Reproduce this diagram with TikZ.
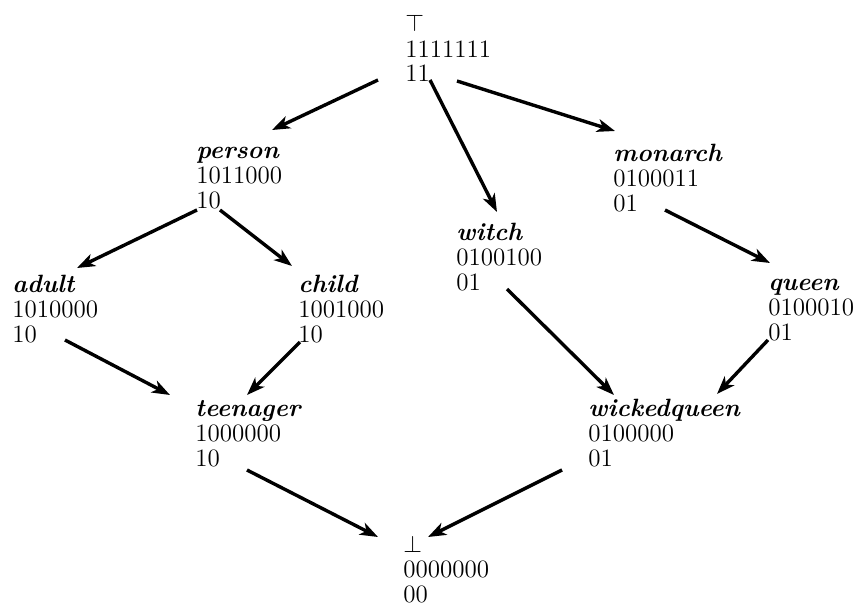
\documentclass[tikz,border=0pt]{standalone}
\usetikzlibrary{arrows.meta,calc}
\tikzset{
  lattice/.style={anchor=base west,inner sep=0pt,align=left,
    font=\fontsize{12.5pt}{12.5pt}\selectfont},
  arr/.style={line width=1.7pt,-{Stealth[length=9pt,width=6.5pt,inset=2.5pt]}}
}
\newcommand{\nm}[1]{\textbf{\textit{#1}}}

\begin{document}
\begin{tikzpicture}[x=0.5pt,y=-0.5pt]
  \useasboundingbox (0,0) rectangle (863,605);
  % the elements, placed at the baseline of their last line (pixels)
  \node[lattice] (top) at (405,82) {$\top$\\1111111\\11};
  \node[lattice] (person) at (196,208) {\nm{person}\\1011000\\10};
  \node[lattice] (witch) at (456,290) {\nm{witch}\\0100100\\01};
  \node[lattice] (monarch) at (613,211) {\nm{monarch}\\0100011\\01};
  \node[lattice] (adult) at (12,342) {\nm{adult}\\1010000\\10};
  \node[lattice] (child) at (298,342) {\nm{child}\\1001000\\10};
  \node[lattice] (queen) at (768,340) {\nm{queen}\\0100010\\01};
  \node[lattice] (teen) at (195,466) {\nm{teenager}\\1000000\\10};
  \node[lattice] (wq) at (588,466) {\nm{wickedqueen}\\0100000\\01};
  \node[lattice] (bot) at (403,602) {$\bot$\\0000000\\00};
  % the order
  \draw[arr] ($(top.base west)+(-27,-2)$) -- ($(person.base west)+(76,-78)$);
  \draw[arr] ($(top.base west)+(25,-2)$) -- ($(witch.base west)+(41,-78)$);
  \draw[arr] ($(top.base west)+(52,-1)$) -- ($(monarch.base west)+(2,-80)$);
  \draw[arr] ($(person.base west)+(1,2)$) -- ($(adult.base west)+(65,-74)$);
  \draw[arr] ($(person.base west)+(24,2)$) -- ($(child.base west)+(-6,-76)$);
  \draw[arr] ($(monarch.base west)+(52,-1)$) -- ($(queen.base west)+(2,-77)$);
  \draw[arr] ($(adult.base west)+(53,-2)$) -- ($(teen.base west)+(-25,-71)$);
  \draw[arr] ($(child.base west)+(2,0)$) -- ($(teen.base west)+(52,-71)$);
  \draw[arr] ($(witch.base west)+(51,-1)$) -- ($(wq.base west)+(26,-71)$);
  \draw[arr] ($(queen.base west)+(0,0)$) -- ($(wq.base west)+(129,-72)$);
  \draw[arr] ($(teen.base west)+(52,4)$) -- ($(bot.base west)+(-25,-65)$);
  \draw[arr] ($(wq.base west)+(-26,4)$) -- ($(bot.base west)+(25,-65)$);
\end{tikzpicture}
\end{document}
